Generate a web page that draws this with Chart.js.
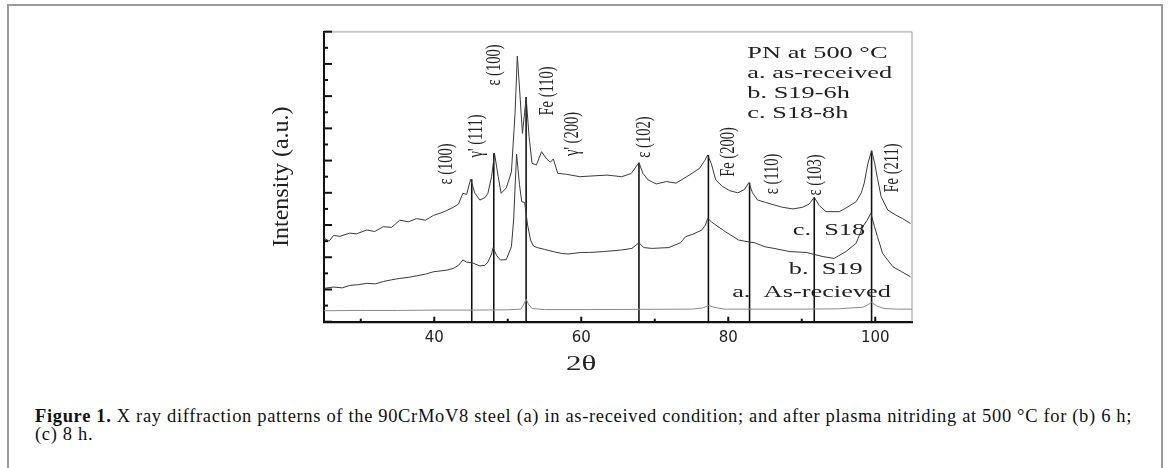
<!DOCTYPE html>
<html>
<head>
<meta charset="utf-8">
<script src="https://cdn.jsdelivr.net/npm/chart.js@4.4.1/dist/chart.umd.min.js"></script>
<style>
body { margin:0; background:#fff; }
#frame { position:absolute; left:7px; top:4px; width:1152px; height:480px; border:2px solid #9a9a9a; border-bottom:none; }
#cv { position:absolute; left:0; top:0; }
#cap { position:absolute; left:35px; top:408px; width:1120px; font-family:'Liberation Serif', serif; font-size:18.5px; letter-spacing:0.66px; line-height:17.7px; color:#111; white-space:nowrap; }
</style>
</head>
<body>
<div id="frame"></div>
<canvas id="cv" width="1170" height="380"></canvas>
<div id="cap"><b>Figure 1.</b> X ray diffraction patterns of the 90CrMoV8 steel (a) in as-received condition; and after plasma nitriding at 500 &deg;C for (b) 6 h;<br>(c) 8 h.</div>

<script>
// 2theta / intensity (arbitrary units, stacked)
var thetaC = [25.0, 25.7, 26.3, 27.2, 28.5, 29.4, 30.8, 31.9, 33.1, 34.2, 35.3, 36.5, 37.6, 38.8, 39.9, 40.9, 41.7, 42.6, 43.3, 43.9, 44.4, 44.95, 45.5, 46.2, 46.9, 47.3, 47.8, 48.2, 48.7, 49.1, 49.8, 50.5, 51.0, 51.3, 51.6, 52.0, 52.3, 52.5, 52.9, 53.3, 53.9, 54.6, 55.3, 55.8, 56.2, 56.8, 58.0, 59.8, 61.6, 63.5, 65.5, 66.8, 67.85, 68.4, 69.1, 70.2, 71.6, 72.9, 74.7, 76.1, 76.8, 77.2, 77.7, 78.3, 79.2, 80.2, 81.3, 82.2, 82.8, 83.3, 84.0, 85.1, 86.3, 87.4, 88.8, 90.1, 91.0, 91.7, 92.4, 93.3, 95.1, 96.0, 97.4, 98.1, 98.5, 99.0, 99.5, 99.9, 100.3, 100.8, 101.7, 102.8, 103.7, 104.8];
var s18 = [5.18, 5.0, 5.35, 5.3, 5.5, 5.45, 5.69, 5.6, 5.9, 5.85, 6.3, 6.2, 6.4, 6.3, 6.6, 6.75, 6.9, 7.1, 7.3, 7.97, 7.9, 8.84, 8.0, 7.55, 7.7, 7.97, 9.0, 10.45, 9.0, 7.97, 8.3, 9.3, 13.0, 16.49, 14.5, 11.69, 13.0, 13.93, 11.5, 9.83, 9.73, 10.55, 10.1, 9.9, 10.1, 9.21, 9.15, 9.0, 9.05, 9.1, 9.0, 9.2, 9.87, 9.2, 8.8, 8.55, 8.7, 8.6, 9.1, 9.52, 10.0, 10.35, 9.8, 8.8, 8.4, 8.13, 8.0, 8.2, 8.63, 8.0, 7.55, 7.4, 7.24, 7.1, 7.0, 7.1, 7.3, 7.72, 7.2, 6.83, 6.83, 7.05, 7.45, 8.0, 8.6, 9.83, 10.61, 9.9, 8.9, 7.76, 6.93, 6.62, 6.4, 6.1];

var thetaB = [25.0, 26.3, 27.5, 28.5, 29.7, 30.8, 32.0, 33.1, 34.2, 35.3, 36.5, 37.6, 38.8, 39.9, 40.8, 41.7, 42.6, 43.3, 43.9, 44.4, 45.2, 46.2, 46.9, 47.3, 47.8, 48.0, 48.5, 49.0, 49.8, 50.5, 50.8, 51.2, 51.6, 51.9, 52.3, 52.7, 53.1, 53.5, 54.0, 55.0, 56.2, 57.3, 58.2, 60.0, 61.1, 63.0, 65.5, 66.9, 67.85, 68.5, 69.6, 71.9, 73.5, 74.2, 75.3, 76.4, 76.9, 77.2, 77.7, 78.3, 79.6, 81.4, 82.8, 83.6, 85.0, 86.1, 88.4, 90.6, 92.9, 94.4, 96.0, 97.4, 98.3, 98.9, 99.4, 99.9, 100.3, 101.0, 102.4, 103.6, 104.8];
var s19 = [2.07, 2.15, 2.1, 2.25, 2.3, 2.38, 2.35, 2.5, 2.6, 2.69, 2.75, 2.85, 2.95, 3.1, 3.15, 3.2, 3.31, 3.5, 3.83, 3.7, 3.65, 3.46, 3.5, 3.7, 4.2, 4.59, 4.1, 3.83, 3.85, 4.66, 6.31, 10.41, 8.5, 7.45, 7.4, 6.0, 5.07, 4.7, 4.6, 4.49, 4.35, 4.24, 4.2, 4.3, 4.3, 4.35, 4.45, 4.55, 4.9, 4.6, 4.55, 4.6, 4.9, 5.28, 5.45, 5.69, 6.0, 6.42, 6.2, 6.0, 5.59, 5.07, 4.95, 4.9, 4.65, 4.56, 4.35, 4.3, 4.04, 3.93, 4.35, 4.87, 5.9, 6.3, 6.73, 5.9, 5.28, 4.24, 3.41, 3.1, 2.79];

var thetaA = [25, 30, 35, 40, 45, 50, 51.8, 52.2, 52.5, 52.8, 53.3, 55, 60, 65, 70, 75, 76.5, 77.3, 78.2, 79.5, 85, 90, 95, 98.3, 99.0, 99.5, 100.2, 101.2, 103, 105];
var asRec = [0.68, 0.7, 0.7, 0.72, 0.72, 0.74, 0.78, 1.1, 1.4, 1.1, 0.82, 0.75, 0.75, 0.76, 0.77, 0.78, 0.85, 1.0, 0.88, 0.78, 0.78, 0.78, 0.8, 0.9, 1.05, 1.2, 0.98, 0.82, 0.78, 0.78];

// peak marker lines: position and top (on the S18 trace)
var peakPos = [45.1, 48.1, 52.5, 67.85, 77.3, 82.9, 91.7, 99.5];
var peakTop = [8.84, 10.45, 13.93, 9.87, 10.35, 8.63, 7.72, 10.61];

// phase labels (rotated) and where they sit, in data units
var phaseNames = ['ε (100)', "γ' (111)", 'ε (100)', 'Fe (110)', "γ' (200)", 'ε (102)', 'Fe (200)', 'ε (110)', 'ε (103)', 'Fe (211)'];
var phaseAtX = [41.67, 45.75, 48.23, 55.43, 58.83, 68.61, 80.07, 85.96, 91.85, 102.35];
var phaseAtY = [9.79, 11.53, 15.93, 14.32, 11.65, 11.46, 10.53, 9.17, 9.11, 9.54];

var legendLines = ['PN at 500 °C', 'a. as-received', 'b. S19-6h', 'c. S18-8h'];
var curveNames = ['c.  S18', 'b.  S19', 'a.  As-recieved'];
var curveNameX = [88.77, 88.23, 80.53];
var curveNameY = [5.65, 3.25, 1.8];

var xTickLabels = [40, 60, 80, 100];
var xMinorTicks = [30, 50, 70, 90];

function pts(xs, ys) { return xs.map(function (x, i) { return {x: x, y: ys[i]}; }); }

var markerPts = [];
peakPos.forEach(function (p, i) {
  markerPts.push({x: p, y: 0}, {x: p, y: peakTop[i]}, {x: p, y: null});
});

var SX = 1.55; // the figure's lettering is drawn wide
function wideText(ctx, txt, x, y, rotated, sx) {
  ctx.save();
  ctx.translate(x, y);
  if (rotated) { ctx.rotate(-Math.PI / 2); ctx.scale(1, sx); }
  else ctx.scale(sx, 1);
  ctx.fillText(txt, 0, 0);
  ctx.restore();
}

var decor = {
  id: 'decor',
  afterDatasetsDraw: function (chart) {
    var ctx = chart.ctx, a = chart.chartArea;
    var xs = chart.scales.x, ys = chart.scales.y;
    ctx.save();
    // frame top / right
    ctx.strokeStyle = '#c8c8c8'; ctx.lineWidth = 2;
    ctx.beginPath(); ctx.moveTo(a.left, a.top); ctx.lineTo(a.right, a.top); ctx.stroke();
    ctx.strokeStyle = '#9a9a9a'; ctx.lineWidth = 1;
    ctx.beginPath(); ctx.moveTo(a.right, a.top); ctx.lineTo(a.right, a.bottom); ctx.stroke();
    // inward ticks
    ctx.strokeStyle = '#111'; ctx.lineWidth = 2;
    for (var v = 0; v <= 18; v++) {
      var py = ys.getPixelForValue(v), len = v % 2 ? 4 : 8;
      ctx.beginPath(); ctx.moveTo(a.left, py); ctx.lineTo(a.left + len, py); ctx.stroke();
    }
    xTickLabels.concat(xMinorTicks).forEach(function (t) {
      var px = xs.getPixelForValue(t), len = xTickLabels.indexOf(t) >= 0 ? 5 : 3;
      ctx.beginPath(); ctx.moveTo(px, a.bottom); ctx.lineTo(px, a.bottom - len); ctx.stroke();
    });
    ctx.fillStyle = '#222';
    // phase labels
    ctx.font = '14.5px "Liberation Serif"';
    ctx.textAlign = 'center'; ctx.textBaseline = 'middle';
    phaseNames.forEach(function (n, i) {
      wideText(ctx, n, xs.getPixelForValue(phaseAtX[i]), ys.getPixelForValue(phaseAtY[i]), true, 1.45);
    });
    // legend block
    ctx.font = '17px "Liberation Serif"';
    ctx.textAlign = 'left';
    var lx = xs.getPixelForValue(82.6);
    legendLines.forEach(function (t, i) {
      wideText(ctx, t, lx, a.top + 21.6 + i * 20.2, false, SX);
    });
    curveNames.forEach(function (t, i) {
      wideText(ctx, t, xs.getPixelForValue(curveNameX[i]), ys.getPixelForValue(curveNameY[i]), false, SX);
    });
    // axis titles
    ctx.textAlign = 'center';
    ctx.font = '20px "Liberation Serif"';
    wideText(ctx, '2θ', xs.getPixelForValue(60), a.bottom + 43.5, false, SX);
    ctx.font = '24px "Liberation Serif"';
    wideText(ctx, 'Intensity (a.u.)', 282, (a.top + a.bottom) / 2, true, 1.0);
    ctx.restore();
  }
};

new Chart('cv', {
  type: 'line',
  data: {
    datasets: [
      {label: 'c. S18-8h', data: pts(thetaC, s18), borderColor: '#3a3a3a', borderWidth: 1},
      {label: 'b. S19-6h', data: pts(thetaB, s19), borderColor: '#3a3a3a', borderWidth: 1},
      {label: 'a. as-received', data: pts(thetaA, asRec), borderColor: '#8a8a8a', borderWidth: 1},
      {label: 'peaks', data: markerPts, borderColor: '#111', borderWidth: 1.6, spanGaps: false}
    ]
  },
  options: {
    responsive: false,
    animation: false,
    events: [],
    elements: { point: { radius: 0 }, line: { tension: 0 } },
    layout: { padding: { top: 31.7, right: 258, left: 0, bottom: 0 } },
    plugins: { legend: { display: false }, tooltip: { enabled: false } },
    scales: {
      x: {
        type: 'linear', min: 25, max: 105,
        grid: { display: false, drawTicks: false },
        border: { display: true, color: '#111', width: 2.2 },
        afterBuildTicks: function (s) { s.ticks = xTickLabels.map(function (v) { return {value: v}; }); },
        afterFit: function (s) { s.height = 380 - 321.7; },
        ticks: { padding: 7, color: '#222', font: { family: 'DejaVu Sans', size: 15 } }
      },
      y: {
        min: 0, max: 18,
        grid: { display: false },
        border: { display: true, color: '#111', width: 2 },
        ticks: { display: false },
        afterFit: function (s) { s.width = 324; }
      }
    }
  },
  plugins: [decor]
});
</script>
</body>
</html>
